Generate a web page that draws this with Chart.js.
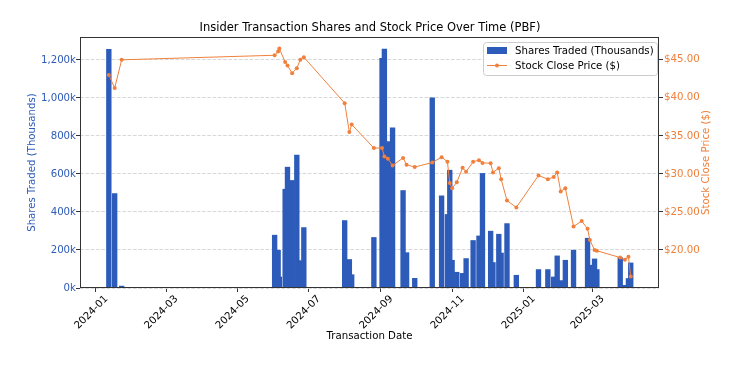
<!DOCTYPE html>
<html>
<head>
<meta charset="utf-8">
<script src="https://cdn.jsdelivr.net/npm/chart.js@4/dist/chart.umd.min.js"></script>
<style>
	html, body { margin: 0; padding: 0; background: #fff; }
	canvas { display: block; }
</style>
</head>
<body>
<canvas id="grafico" width="740" height="370"></canvas>
<script>
// datas das transacoes
var datas = [
	'2024-01-12', '2024-01-17', '2024-01-23',
	'2024-06-02', '2024-06-05', '2024-06-06', '2024-06-11', '2024-06-13', '2024-06-17', '2024-06-21', '2024-06-24', '2024-06-27',
	'2024-08-01', '2024-08-05', '2024-08-07', '2024-08-26',
	'2024-09-02', '2024-09-04', '2024-09-07', '2024-09-11', '2024-09-20', '2024-09-23', '2024-09-30',
	'2024-10-15', '2024-10-23', '2024-10-28', '2024-10-30',
	'2024-11-01', '2024-11-05', '2024-11-10', '2024-11-13', '2024-11-19', '2024-11-24', '2024-11-27',
	'2024-12-04', '2024-12-06', '2024-12-11', '2024-12-13', '2024-12-18', '2024-12-26',
	'2025-01-14', '2025-01-22', '2025-01-27', '2025-01-30',
	'2025-02-02', '2025-02-06', '2025-02-13', '2025-02-20', '2025-02-25', '2025-02-27',
	'2025-03-03', '2025-03-05', '2025-03-25', '2025-03-29', '2025-04-01', '2025-04-03'
];

// acoes negociadas (milhares)
var acoes = [
	1256, 497, 10,
	278, 199, 58, 520, 636, 566, 699, 144, 318,
	355, 150, 70, 266,
	1209, 1258, 770, 843, 513, 186, 51,
	1001, 485, 387, 620,
	146, 83, 77, 155, 250, 274, 603,
	299, 134, 283, 184, 339, 67,
	97, 97, 58, 169,
	39, 146, 199, 4, 262, 120,
	153, 97, 160, 14, 50, 132
];

// preco de fechamento ($)
var precos = [
	43.0, 41.3, 45.0,
	45.6, 46.1, 46.5, 44.7, 44.25, 43.25, 43.9, 45.0, 45.35,
	39.3, 35.5, 36.5, 33.4,
	33.4, 32.3, 32.0, 31.1, 32.1, 31.2, 30.9,
	31.5, 32.2, 31.6, 28.8,
	28.1, 28.9, 30.8, 30.3, 31.6, 31.8, 31.45,
	31.4, 30.2, 30.75, 29.3, 26.5, 25.6,
	29.8, 29.3, 29.6, 30.2,
	27.7, 28.1, 23.1, 23.8, 22.8, 21.3,
	20.0, 19.9, 19.0, 18.7, 19.1, 16.5
];

var mesesTicks = ['2024-01', '2024-03', '2024-05', '2024-07', '2024-09', '2024-11', '2025-01', '2025-03'];
var acoesTicks = [0, 200, 400, 600, 800, 1000, 1200];
var precoTicks = [20, 25, 30, 35, 40, 45];

var AZUL = '#2d5bb9';
var LARANJA = '#f0803c';
var FONTE = '"DejaVu Sans", sans-serif';

// dias desde 2024-01-01
function dia(texto) {
	var p = texto.split('-');
	return (Date.UTC(+p[0], +p[1] - 1, +(p[2] || 1)) - Date.UTC(2024, 0, 1)) / 86400000;
}

var nomesPorDia = {};
mesesTicks.forEach(function(m) { nomesPorDia[dia(m)] = m; });

var pontosAcoes = datas.map(function(d, i) { return { x: dia(d), y: acoes[i] }; });
var pontosPrecos = datas.map(function(d, i) { return { x: dia(d), y: precos[i] }; });

function roundRect(c, x, y, w, h, r) {
	c.beginPath();
	c.moveTo(x + r, y);
	c.arcTo(x + w, y, x + w, y + h, r);
	c.arcTo(x + w, y + h, x, y + h, r);
	c.arcTo(x, y + h, x, y, r);
	c.arcTo(x, y, x + w, y, r);
	c.closePath();
}

var extras = {
	id: 'extras',
	afterDraw: function(chart) {
		var c = chart.ctx, a = chart.chartArea;
		c.save();
		c.strokeStyle = '#333';
		c.lineWidth = 1;
		c.strokeRect(a.left + 0.5, a.top + 0.5, a.right - a.left - 1, a.bottom - a.top - 1);

		// titulo do eixo direito, de baixo para cima
		c.save();
		c.translate(706, (a.top + a.bottom) / 2);
		c.rotate(-Math.PI / 2);
		c.fillStyle = LARANJA;
		c.font = '10.2px ' + FONTE;
		c.textAlign = 'center';
		c.textBaseline = 'middle';
		c.fillText('Stock Close Price ($)', 0, 0);
		c.restore();

		// legenda
		roundRect(c, 483.5, 42.5, 174, 33, 3);
		c.fillStyle = 'rgba(255,255,255,0.85)';
		c.fill();
		c.strokeStyle = '#cccccc';
		c.stroke();

		c.fillStyle = AZUL;
		c.fillRect(487, 47, 20, 7);

		c.strokeStyle = LARANJA;
		c.lineWidth = 1;
		c.beginPath();
		c.moveTo(487, 65.5);
		c.lineTo(507, 65.5);
		c.stroke();
		c.fillStyle = LARANJA;
		c.beginPath();
		c.arc(497, 65.5, 2, 0, Math.PI * 2);
		c.fill();

		c.fillStyle = '#000';
		c.font = '10.2px ' + FONTE;
		c.textAlign = 'left';
		c.textBaseline = 'middle';
		c.fillText('Shares Traded (Thousands)', 515, 51);
		c.fillText('Stock Close Price ($)', 515, 66);
		c.restore();
	}
};

var grafico = new Chart(document.getElementById('grafico'), {
	type: 'bar',
	data: {
		datasets: [{
			type: 'line',
			label: 'Stock Close Price ($)',
			data: pontosPrecos,
			yAxisID: 'y1',
			borderColor: LARANJA,
			backgroundColor: LARANJA,
			borderWidth: 1,
			pointRadius: 2,
			pointHoverRadius: 2,
			pointBorderWidth: 0,
			tension: 0,
			order: 0
		}, {
			type: 'bar',
			label: 'Shares Traded (Thousands)',
			data: pontosAcoes,
			yAxisID: 'y',
			backgroundColor: AZUL,
			barThickness: 4.7,
			order: 1
		}]
	},
	options: {
		responsive: false,
		animation: false,
		devicePixelRatio: 1,
		layout: { padding: 0 },
		plugins: {
			legend: { display: false },
			tooltip: { enabled: false },
			title: {
				display: true,
				text: 'Insider Transaction Shares and Stock Price Over Time (PBF)',
				color: '#000',
				font: { family: FONTE, size: 11.5, weight: 'normal' },
				padding: { top: 21, bottom: 2.2 }
			}
		},
		scales: {
			x: {
				type: 'linear',
				min: -13.7,
				max: 482.2,
				offset: false,
				afterFit: function(s) { s.height = 82; },
				afterBuildTicks: function(s) {
					s.ticks = mesesTicks.map(function(m) { return { value: dia(m) }; });
				},
				ticks: {
					autoSkip: false,
					minRotation: 45,
					maxRotation: 45,
					labelOffset: 10.5,
					padding: 1,
					color: '#000',
					font: { family: FONTE, size: 10.2 },
					callback: function(v) { return nomesPorDia[v] || ''; }
				},
				grid: { offset: false, drawOnChartArea: false, tickLength: 4, tickColor: '#333' },
				border: { display: false },
				title: {
					display: true,
					text: 'Transaction Date',
					color: '#000',
					font: { family: FONTE, size: 10.2 },
					padding: { top: 0, bottom: 28 }
				}
			},
			y: {
				position: 'left',
				min: 0,
				max: 1321,
				afterFit: function(s) { s.width = 80; },
				afterBuildTicks: function(s) {
					s.ticks = acoesTicks.map(function(v) { return { value: v }; });
				},
				ticks: {
					padding: 0,
					color: AZUL,
					font: { family: FONTE, size: 10.2 },
					callback: function(v) { return v.toLocaleString('en-US') + 'k'; }
				},
				grid: { color: '#d8d8d8', tickColor: '#333', tickLength: 4 },
				border: { display: false, dash: [3.7, 1.6] },
				title: {
					display: true,
					text: 'Shares Traded (Thousands)',
					color: AZUL,
					font: { family: FONTE, size: 10.2 },
					padding: { top: 26, bottom: 0 }
				}
			},
			y1: {
				position: 'right',
				min: 15,
				max: 48,
				afterFit: function(s) { s.width = 81; },
				afterBuildTicks: function(s) {
					s.ticks = precoTicks.map(function(v) { return { value: v }; });
				},
				ticks: {
					padding: 1,
					color: LARANJA,
					font: { family: FONTE, size: 10.2 },
					callback: function(v) { return '$' + v.toFixed(2); }
				},
				grid: { drawOnChartArea: false, tickColor: '#333', tickLength: 4 },
				border: { display: false }
			}
		}
	},
	plugins: [extras]
});
</script>
</body>
</html>
